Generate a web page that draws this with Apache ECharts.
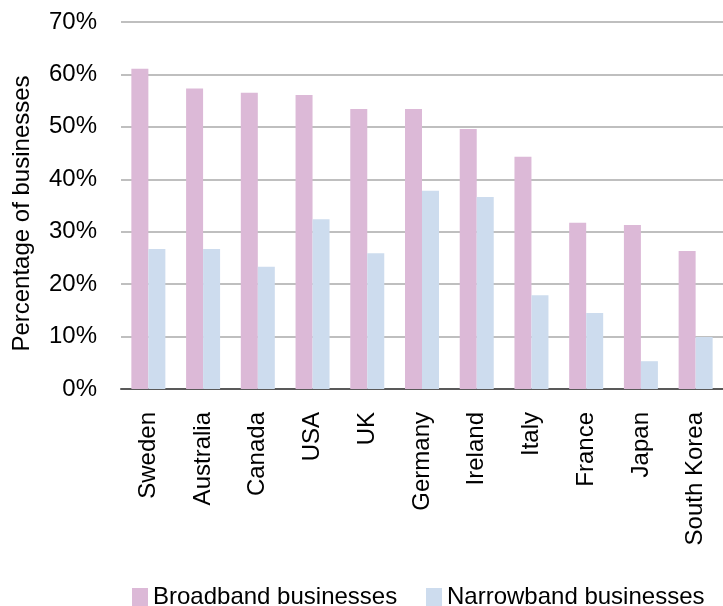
<!DOCTYPE html>
<html>
<head>
<meta charset="utf-8">
<script src="https://cdn.jsdelivr.net/npm/echarts@6/dist/echarts.min.js"></script>
<style>
  html, body { margin: 0; padding: 0; background: #fff; }
  #chart { width: 723px; height: 606px; }
</style>
</head>
<body>
<div id="chart"></div>
<script>
// Share of businesses with broadband / narrowband connections, by country (%)
const countries = ['Sweden', 'Australia', 'Canada', 'USA', 'UK', 'Germany', 'Ireland', 'Italy', 'France', 'Japan', 'South Korea'];
const broadband = [61.1, 57.3, 56.5, 56.1, 53.4, 53.4, 49.6, 44.3, 31.7, 31.3, 26.3];
const narrowband = [26.7, 26.7, 23.3, 32.4, 25.9, 37.8, 36.6, 17.9, 14.5, 5.3, 9.9];
const seriesNames = ['Broadband businesses', 'Narrowband businesses'];
const yTicks = { min: 0, max: 70, interval: 10 };

const font = 'Liberation Sans, Arial, sans-serif';
const chart = echarts.init(document.getElementById('chart'), null, { renderer: 'canvas' });

const legendBase = {
  top: 585,
  padding: 0,
  itemWidth: 16,
  itemHeight: 18,
  icon: 'rect',
  textStyle: { fontFamily: font, fontSize: 24, color: '#000', padding: [0, 0, 0, 0] }
};

chart.setOption({
  animation: false,
  backgroundColor: '#ffffff',
  grid: { left: 121, top: 22, right: -10, bottom: 217, containLabel: false },
  legend: [
    Object.assign({}, legendBase, { data: [seriesNames[0]], left: 132 }),
    Object.assign({}, legendBase, { data: [seriesNames[1]], left: 426 })
  ],
  xAxis: {
    type: 'category',
    data: countries,
    axisLine: { lineStyle: { color: '#595959', width: 2 } },
    axisTick: { show: false },
    axisLabel: {
      rotate: 90,
      margin: 23,
      fontFamily: font,
      fontSize: 24,
      color: '#000'
    }
  },
  yAxis: {
    type: 'value',
    min: yTicks.min,
    max: yTicks.max,
    interval: yTicks.interval,
    name: 'Percentage of businesses',
    nameLocation: 'middle',
    nameRotate: 90,
    nameGap: 87,
    nameTextStyle: { fontFamily: font, fontSize: 24, color: '#000', padding: [0, 0, 0, -16] },
    axisLine: { show: false },
    axisTick: { show: false },
    axisLabel: {
      margin: 24,
      fontFamily: font,
      fontSize: 24,
      color: '#000',
      formatter: v => v + '%'
    },
    splitLine: { lineStyle: { color: '#bfbfbf', width: 2 } }
  },
  series: [
    {
      name: seriesNames[0],
      type: 'bar',
      data: broadband,
      barWidth: 17,
      barGap: '0%',
      itemStyle: { color: '#dcb9d7' }
    },
    {
      name: seriesNames[1],
      type: 'bar',
      data: narrowband,
      barWidth: 17,
      barGap: '0%',
      itemStyle: { color: '#cddcee' }
    }
  ]
});
</script>
</body>
</html>
